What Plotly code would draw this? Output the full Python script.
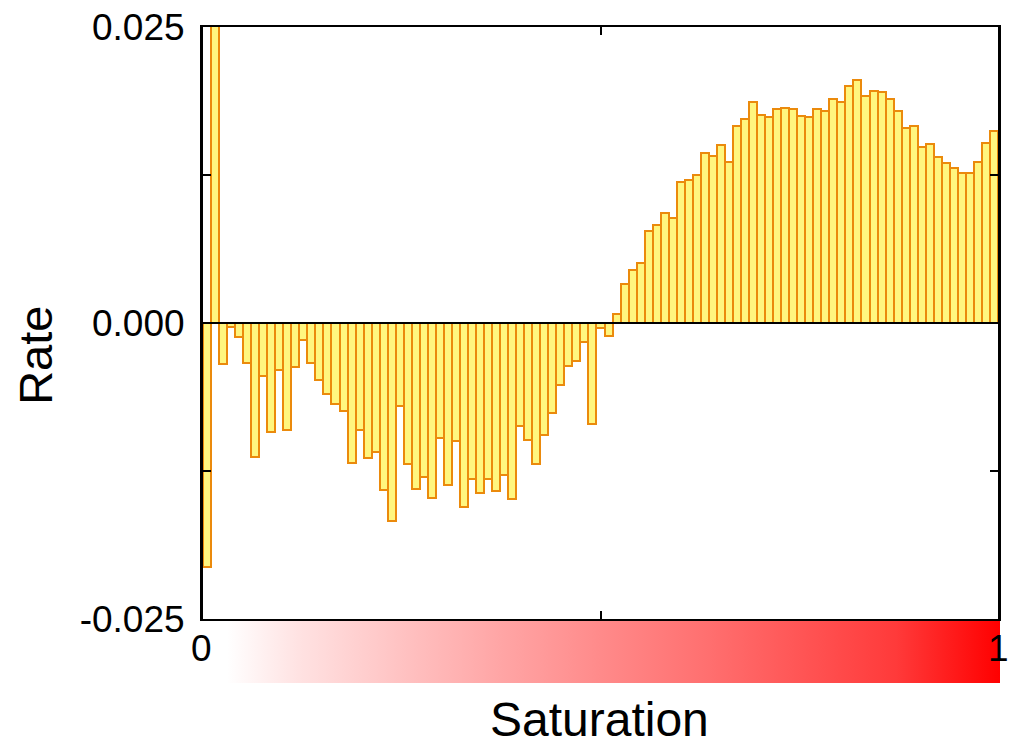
import plotly.graph_objects as go

# rate per saturation bin (99 bins between 0 and 1)
rate = [
    -0.0206, 0.0320, -0.0035, -0.0003, -0.0012, -0.0034, -0.0113, -0.0045, -0.0092, -0.0040,
    -0.0090, -0.0037, -0.0014, -0.0034, -0.0048, -0.0060, -0.0068, -0.0074, -0.0118, -0.0090,
    -0.0114, -0.0109, -0.0141, -0.0167, -0.0070, -0.0119, -0.0140, -0.0130, -0.0148, -0.0097,
    -0.0137, -0.0100, -0.0155, -0.0132, -0.0144, -0.0132, -0.0142, -0.0128, -0.0149, -0.0087,
    -0.0099, -0.0119, -0.0095, -0.0076, -0.0052, -0.0036, -0.0032, -0.0016, -0.0085, -0.0004,
    -0.0011, 0.0008, 0.0033, 0.0045, 0.0051, 0.0078, 0.0083, 0.0093, 0.0089, 0.0119,
    0.0121, 0.0125, 0.0144, 0.0141, 0.0150, 0.0136, 0.0166, 0.0172, 0.0187, 0.0176,
    0.0174, 0.0181, 0.0182, 0.0181, 0.0175, 0.0174, 0.0181, 0.0179, 0.0189, 0.0187,
    0.0200, 0.0205, 0.0192, 0.0196, 0.0195, 0.0189, 0.0179, 0.0165, 0.0166, 0.0149,
    0.0151, 0.0140, 0.0135, 0.0131, 0.0127, 0.0127, 0.0136, 0.0152, 0.0162,
]
n_bins = len(rate)
saturation = [(i + 0.5) / n_bins for i in range(n_bins)]

y_tickvals = [-0.025, -0.0125, 0.0, 0.0125, 0.025]
y_ticktext = ['-0.025', '', '0.000', '', '0.025']
x_tickvals = [0, 0.5, 1]

# white -> red ramp under the axis
ramp = [[0, '#ffffff'], [0.03, '#ffffff'], [0.12, '#ffe2e2'], [0.25, '#ffc2c2'],
        [0.37, '#ffa6a6'], [0.5, '#ff8a8a'], [0.63, '#ff7070'], [0.75, '#ff5555'],
        [0.87, '#ff3a3a'], [1, '#ff0000']]

FONT = 'Liberation Sans, Arial, sans-serif'

fig = go.Figure()

fig.add_trace(go.Bar(
    x=saturation,
    y=rate,
    width=1 / n_bins,
    marker=dict(color='#fff67f', line=dict(color='#eb8a0c', width=2)),
    showlegend=False,
))

fig.add_trace(go.Scatter(
    x=[0, 1, 1, 0, 0],
    y=[0, 0, 1, 1, 0],
    xaxis='x2', yaxis='y2',
    mode='none',
    fill='toself',
    fillgradient=dict(type='horizontal', colorscale=ramp),
    hoverinfo='skip',
    showlegend=False,
))

# black zero line drawn over the bars
fig.add_hline(y=0, line=dict(color='black', width=2), layer='above')

# page body adds an 8px offset, so the figure is 8px smaller than the window
fig.update_layout(
    width=1008, height=738,
    margin=dict(l=195, r=16, t=19, b=63, autoexpand=False),
    paper_bgcolor='white', plot_bgcolor='white',
    bargap=0,
    font=dict(family=FONT, size=37, color='black'),
    xaxis=dict(
        domain=[0, 0.9975], range=[0, 1], automargin=False,
        tickvals=x_tickvals, ticktext=['', '', ''],
        ticks='inside', ticklen=8, tickwidth=2, tickcolor='black',
        showline=True, linecolor='black', linewidth=2, mirror='ticks',
        showgrid=False, zeroline=False, anchor='y',
    ),
    yaxis=dict(
        domain=[0.0976, 1], range=[-0.025, 0.025], automargin=False,
        tickvals=y_tickvals, ticktext=y_ticktext, ticklabeloverflow='allow',
        ticks='inside', ticklen=8, tickwidth=2, tickcolor='black',
        showline=True, linecolor='black', linewidth=3, mirror='ticks',
        showgrid=False, zeroline=False,
        ticklabelstandoff=8, anchor='x',
    ),
    xaxis2=dict(domain=[0, 1], range=[0, 1], visible=False, anchor='y2', automargin=False),
    yaxis2=dict(domain=[0, 0.0945], range=[0, 1], visible=False, anchor='x2', automargin=False),
    annotations=[
        dict(text='0', x=-0.0025, y=0.053, xref='paper', yref='paper',
             xanchor='center', yanchor='middle', showarrow=False, font=dict(size=37)),
        dict(text='1', x=0.9975, y=0.053, xref='paper', yref='paper',
             xanchor='center', yanchor='middle', showarrow=False, font=dict(size=37)),
        dict(text='Rate', x=-0.211, y=0.5, xref='paper', yref='paper',
             xanchor='center', yanchor='middle', textangle=-90, showarrow=False,
             font=dict(size=47)),
        dict(text='Saturation', x=0.498, y=-0.056, xref='paper', yref='paper',
             xanchor='center', yanchor='middle', showarrow=False, font=dict(size=48)),
    ],
)

fig.write_html('out.html')
